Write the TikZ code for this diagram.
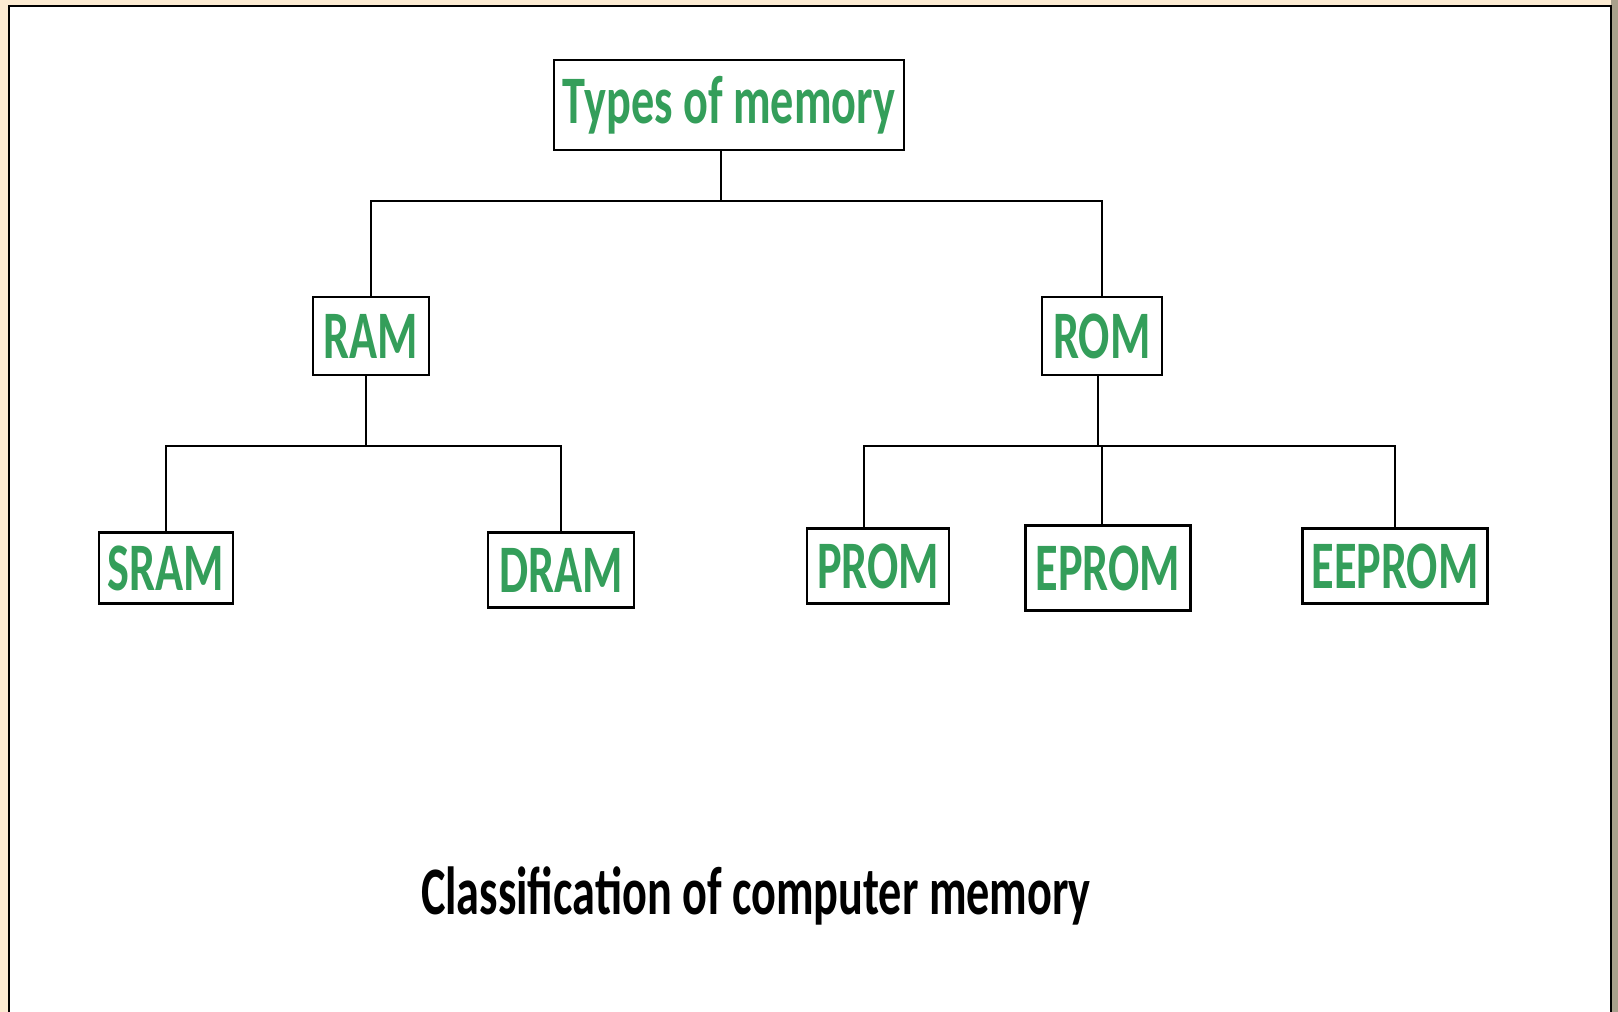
\documentclass[tikz,border=0pt]{standalone}
\usepackage{fontspec}
\setmainfont{Carlito}
\newfontfamily\boxfont[FakeStretch=0.68]{Carlito}
\usepackage{tikz}
\definecolor{memgreen}{RGB}{52,158,90}
\definecolor{pagebeige}{RGB}{252,235,210}
\definecolor{edgegray}{RGB}{168,160,140}
\tikzset{
  membox/.style={draw=black, line width=1.2pt, fill=white, text=memgreen, inner sep=0pt,
    font=\boxfont\bfseries\fontsize{34}{38}\selectfont},
  link/.style={line width=1.2pt, black}
}

\begin{document}
\begin{tikzpicture}[x=0.5pt,y=-0.5pt]
\useasboundingbox (0,0) rectangle (1618,1012);
\fill[pagebeige] (0,0) rectangle (1618,1012);
\fill[edgegray] (1611,0) rectangle (1618,1012);
\fill[white] (9,6) rectangle (1611,1012);
\draw[line width=1.2pt] (9,1012) -- (9,6) -- (1611,6) -- (1611,1012);

\node[membox, minimum width=175pt, minimum height=45pt] (types) at (729,105) {Types of memory};
\node[membox, minimum width=58pt, minimum height=39pt] (ram) at (371,336) {RAM};
\node[membox, minimum width=60pt, minimum height=39pt] (rom) at (1102,336) {ROM};
\node[membox, minimum width=67pt, minimum height=35.5pt] (sram) at (166,568) {SRAM};
\node[membox, minimum width=73pt, minimum height=37.5pt] (dram) at (561,570) {DRAM};
\node[membox, minimum width=71pt, minimum height=37.5pt] (prom) at (878,566) {PROM};
\node[membox, minimum width=82.5pt, minimum height=42.5pt] (eprom) at (1108,568) {EPROM};
\node[membox, minimum width=92.5pt, minimum height=37.5pt] (eeprom) at (1395,566) {EEPROM};

\coordinate (topjoin) at (721,201);
\coordinate (ramjoin) at (366,446);
\coordinate (romjoin) at (1098,446);

\draw[link] (types.south -| topjoin) -- (topjoin);
\draw[link] (ram.north) |- (topjoin) -| (rom.north);
\draw[link] (ram.south -| ramjoin) -- (ramjoin);
\draw[link] (sram.north) |- (ramjoin) -| (dram.north);
\draw[link] (rom.south -| romjoin) -- (romjoin);
\draw[link] ([xshift=-7pt]prom.north) |- (romjoin) -| (eeprom.north);
\draw[link] ([xshift=-3pt]eprom.north) -- ([xshift=-3pt]eprom.north |- romjoin);

\node[font=\boxfont\bfseries\fontsize{34}{38}\selectfont] (caption) at (756,896) {Classification of computer memory};
\end{tikzpicture}
\end{document}
